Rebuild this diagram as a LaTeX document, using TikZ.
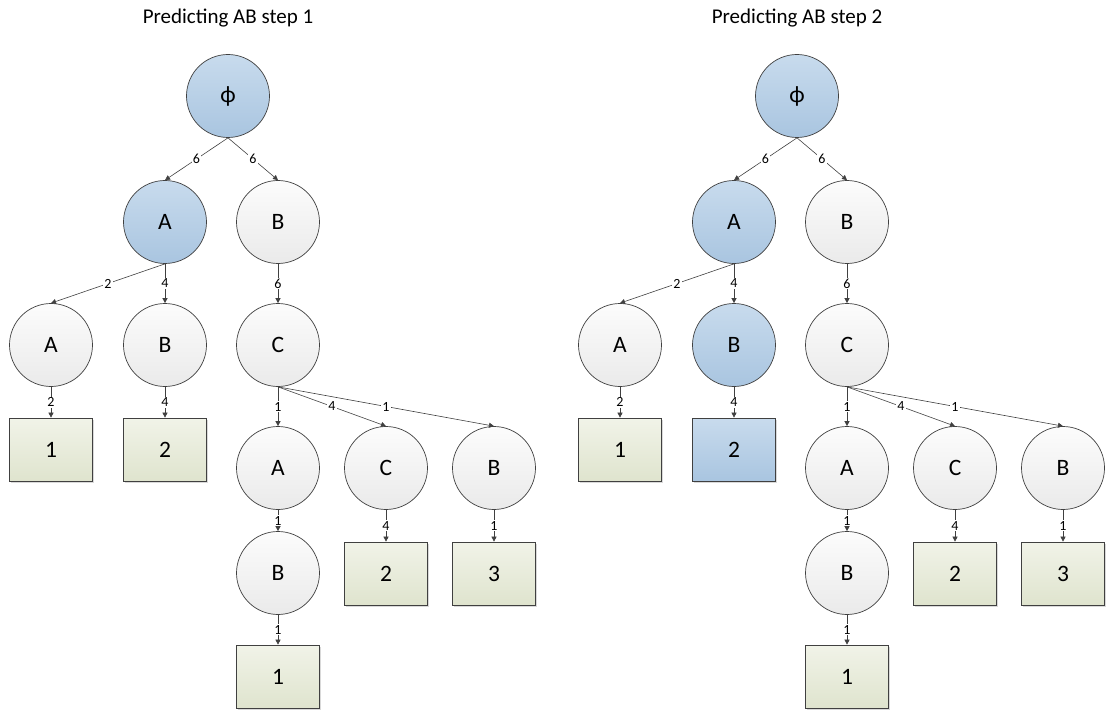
\documentclass[tikz,border=0pt]{standalone}
\usepackage{fontspec}
\setmainfont{Carlito}
\usetikzlibrary{arrows.meta,shadows}

\definecolor{edgegray}{HTML}{404040}
\definecolor{blueTop}{HTML}{C8DBED}
\definecolor{blueBot}{HTML}{A9C5E0}
\definecolor{greyTop}{HTML}{FCFCFC}
\definecolor{greyBot}{HTML}{EAEAEA}
\definecolor{greenTop}{HTML}{F1F3E8}
\definecolor{greenBot}{HTML}{DFE4CE}

\tikzset{
  base/.style={draw=edgegray, line width=0.7pt, font=\fontsize{23.5}{27}\selectfont, text=black},
  state/.style={base, circle, minimum size=83pt, inner sep=0pt,
                top color=greyTop, bottom color=greyBot},
  hot/.style={top color=blueTop, bottom color=blueBot},
  leafbox/.style={base, rectangle, minimum width=83pt, minimum height=63pt, inner sep=0pt,
                  top color=greenTop, bottom color=greenBot,
                  drop shadow={shadow xshift=1.5pt, shadow yshift=-1.5pt, opacity=0.15, fill=black}},
  link/.style={draw=edgegray, line width=0.6pt, -{Triangle[length=5pt,width=5pt]}},
  count/.style={fill=white, inner sep=1pt, font=\fontsize{14}{16}\selectfont, text=black},
  heading/.style={font=\fontsize{21}{25}\selectfont, text=black},
}

\begin{document}
\begin{tikzpicture}[x=1pt, y=-1pt]
\useasboundingbox (0,0) rectangle (1107,711);

% ---------- step 1 ----------
\node[heading] (t1) at (228,18) {Predicting AB step 1};
\node[state, hot] (p1) at (228,96) {ϕ};
\node[state, hot] (p1A) at (165,222) {A};
\node[state] (p1B) at (278,222) {B};
\node[state] (p1AA) at (51,345) {A};
\node[state] (p1AB) at (165,345) {B};
\node[state] (p1BC) at (278,345) {C};
\node[leafbox] (p1AAx) at (51,449.5) {1};
\node[leafbox] (p1ABx) at (165,449.5) {2};
\node[state] (p1BCA) at (278,468) {A};
\node[state] (p1BCC) at (386,468) {C};
\node[state] (p1BCB) at (494,468) {B};
\node[leafbox] (p1BCCx) at (386,573.5) {2};
\node[leafbox] (p1BCBx) at (494,573.5) {3};
\node[state] (p1BCAB) at (278,573) {B};
\node[leafbox] (p1BCABx) at (278,676.5) {1};

\draw[link] (p1.south) -- node[count] {6} (p1A.north);
\draw[link] (p1.south) -- node[count] {6} (p1B.north);
\draw[link] (p1A.south) -- node[count] {2} (p1AA.north);
\draw[link] (p1A.south) -- node[count] {4} (p1AB.north);
\draw[link] (p1B.south) -- node[count] {6} (p1BC.north);
\draw[link] (p1AA.south) -- node[count] {2} (p1AAx.north);
\draw[link] (p1AB.south) -- node[count] {4} (p1ABx.north);
\draw[link] (p1BC.south) -- node[count] {1} (p1BCA.north);
\draw[link] (p1BC.south) -- node[count] {4} (p1BCC.north);
\draw[link] (p1BC.south) -- node[count] {1} (p1BCB.north);
\draw[link] (p1BCC.south) -- node[count] {4} (p1BCCx.north);
\draw[link] (p1BCB.south) -- node[count] {1} (p1BCBx.north);
\draw[link] (p1BCA.south) -- node[count] {1} (p1BCAB.north);
\draw[link] (p1BCAB.south) -- node[count] {1} (p1BCABx.north);

% ---------- step 2 ----------
\begin{scope}[xshift=569pt]
\node[heading] (t2) at (228,18) {Predicting AB step 2};
\node[state, hot] (p2) at (228,96) {ϕ};
\node[state, hot] (p2A) at (165,222) {A};
\node[state] (p2B) at (278,222) {B};
\node[state] (p2AA) at (51,345) {A};
\node[state, hot] (p2AB) at (165,345) {B};
\node[state] (p2BC) at (278,345) {C};
\node[leafbox] (p2AAx) at (51,449.5) {1};
\node[leafbox, top color=blueTop, bottom color=blueBot] (p2ABx) at (165,449.5) {2};
\node[state] (p2BCA) at (278,468) {A};
\node[state] (p2BCC) at (386,468) {C};
\node[state] (p2BCB) at (494,468) {B};
\node[leafbox] (p2BCCx) at (386,573.5) {2};
\node[leafbox] (p2BCBx) at (494,573.5) {3};
\node[state] (p2BCAB) at (278,573) {B};
\node[leafbox] (p2BCABx) at (278,676.5) {1};

\draw[link] (p2.south) -- node[count] {6} (p2A.north);
\draw[link] (p2.south) -- node[count] {6} (p2B.north);
\draw[link] (p2A.south) -- node[count] {2} (p2AA.north);
\draw[link] (p2A.south) -- node[count] {4} (p2AB.north);
\draw[link] (p2B.south) -- node[count] {6} (p2BC.north);
\draw[link] (p2AA.south) -- node[count] {2} (p2AAx.north);
\draw[link] (p2AB.south) -- node[count] {4} (p2ABx.north);
\draw[link] (p2BC.south) -- node[count] {1} (p2BCA.north);
\draw[link] (p2BC.south) -- node[count] {4} (p2BCC.north);
\draw[link] (p2BC.south) -- node[count] {1} (p2BCB.north);
\draw[link] (p2BCC.south) -- node[count] {4} (p2BCCx.north);
\draw[link] (p2BCB.south) -- node[count] {1} (p2BCBx.north);
\draw[link] (p2BCA.south) -- node[count] {1} (p2BCAB.north);
\draw[link] (p2BCAB.south) -- node[count] {1} (p2BCABx.north);
\end{scope}
\end{tikzpicture}
\end{document}
